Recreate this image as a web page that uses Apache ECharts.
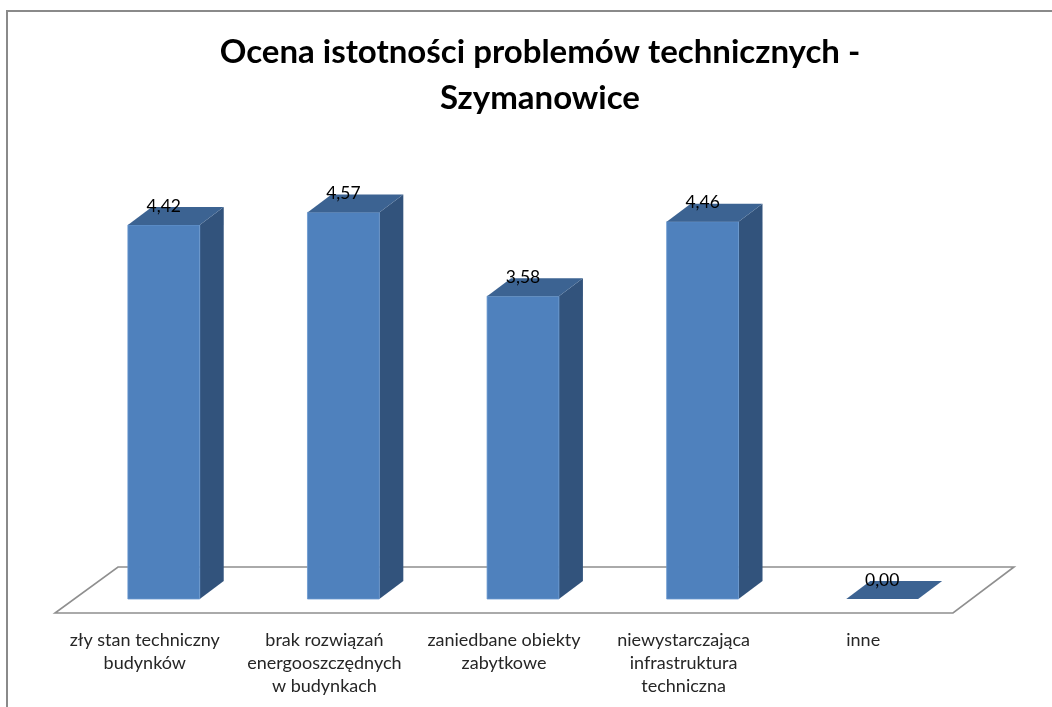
<!DOCTYPE html>
<html>
<head>
<meta charset="utf-8">
<title>Ocena istotności problemów technicznych - Szymanowice</title>
<script src="https://cdn.jsdelivr.net/npm/echarts@6/dist/echarts.min.js"></script>
<style>
  html, body { margin: 0; padding: 0; background: #ffffff; }
  #chart { width: 1052px; height: 707px; }
</style>
</head>
<body>
<div id="chart"></div>
<script>
// Problem categories (line breaks as they wrap under the floor)
const categories = [
  'zły stan techniczny\nbudynków',
  'brak rozwiązań\nenergooszczędnych\nw budynkach',
  'zaniedbane obiekty\nzabytkowe',
  'niewystarczająca\ninfrastruktura\ntechniczna',
  'inne'
];
// Mean importance score per category
const scores = [4.42, 4.57, 3.58, 4.46, 0.00];

const FONT = 'Lato, "Open Sans", sans-serif';

// Extrusion used for the pseudo-3D look (pixels)
const DEPTH_X = 24, DEPTH_Y = -18;
const FRONT = '#4F81BD', SIDE = '#32537C', TOP = '#3C6392';

function renderFloor(params, api) {
  const cs = params.coordSys;
  const x0 = cs.x, x1 = cs.x + cs.width, y = cs.y + cs.height;
  return {
    type: 'polygon',
    shape: { points: [
      [x0 - 19, y + 14], [x1 - 19, y + 14],
      [x1 + 42, y - 32], [x0 + 44, y - 32]
    ] },
    style: { fill: '#ffffff', stroke: '#8f8f8f', lineWidth: 1.6 },
    silent: true
  };
}

function renderBar(params, api) {
  const i = api.value(0);
  const v = api.value(1);
  const top = api.coord([i, v]);
  const base = api.coord([i, 0]);
  const half = api.size([1, 0])[0] * 0.2;
  const l = top[0] - half, r = top[0] + half;
  const t = top[1], b = base[1];
  const children = [];
  if (b - t > 0.5) {
    children.push({
      type: 'polygon',
      shape: { points: [[r, t], [r + DEPTH_X, t + DEPTH_Y], [r + DEPTH_X, b + DEPTH_Y], [r, b]] },
      style: { fill: SIDE }
    });
    children.push({
      type: 'rect',
      shape: { x: l, y: t, width: r - l, height: b - t },
      style: { fill: FRONT, stroke: '#6a98cf', lineWidth: 0.8 }
    });
  }
  children.push({
    type: 'polygon',
    shape: { points: [[l, t], [l + DEPTH_X, t + DEPTH_Y], [r + DEPTH_X, t + DEPTH_Y], [r, t]] },
    style: { fill: TOP }
  });
  children.push({
    type: 'text',
    x: top[0], y: t - 19,
    style: {
      text: v.toFixed(2).replace('.', ','),
      align: 'center', verticalAlign: 'middle',
      font: '17.5px ' + FONT, fill: '#000000'
    }
  });
  return { type: 'group', children: children };
}

const chart = echarts.init(document.getElementById('chart'), null, { renderer: 'canvas' });
chart.setOption({
  backgroundColor: '#ffffff',
  animation: false,
  title: {
    text: 'Ocena istotności problemów technicznych -\nSzymanowice',
    left: 535, top: 24, textAlign: 'center',
    textStyle: { fontFamily: FONT, fontSize: 33, fontWeight: 'bold', color: '#000000', lineHeight: 46 }
  },
  graphic: [{
    type: 'rect', z: -10, silent: true,
    shape: { x: 7, y: 11, width: 1200, height: 900 },
    style: { fill: 'none', stroke: '#8a8a8a', lineWidth: 2 }
  }],
  grid: { left: 74, right: 80, top: 176, bottom: 108 },
  xAxis: {
    type: 'category',
    data: categories,
    axisLine: { show: false },
    axisTick: { show: false },
    axisLabel: {
      interval: 0, margin: 30,
      fontFamily: FONT, fontSize: 18, lineHeight: 23, color: '#262626',
      padding: [0, 38, 0, 0]
    }
  },
  yAxis: { type: 'value', min: 0, max: 5, show: false, splitLine: { show: false } },
  series: [
    {
      type: 'custom', name: 'floor', z: 1,
      renderItem: renderFloor,
      data: [[0, 0]],
      silent: true
    },
    {
      type: 'custom', name: 'scores', z: 2,
      renderItem: renderBar,
      encode: { x: 0, y: 1 },
      data: scores.map((v, i) => [i, v])
    }
  ]
});
</script>
</body>
</html>
